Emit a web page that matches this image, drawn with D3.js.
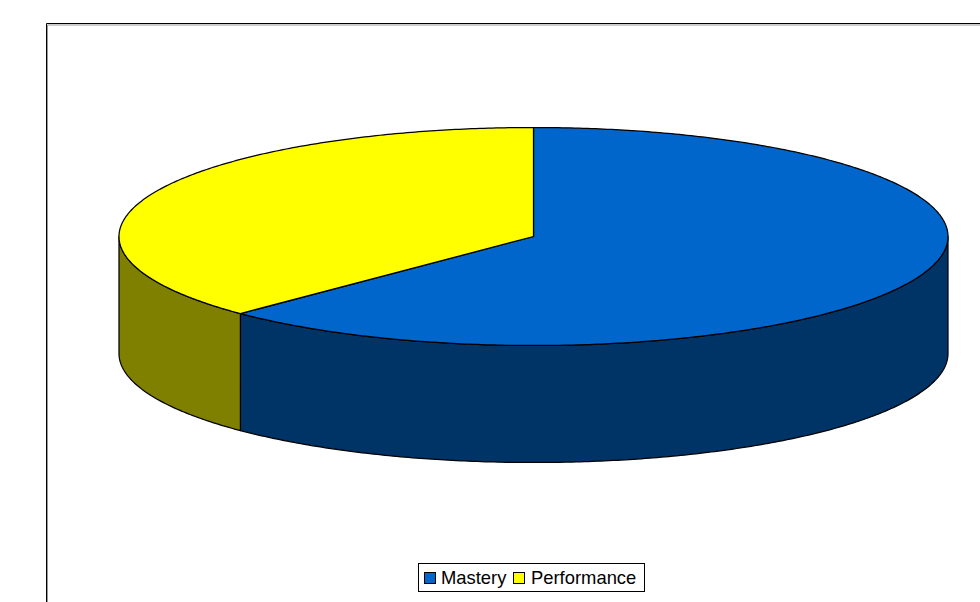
<!DOCTYPE html>
<html><head><meta charset="utf-8">
<script src="https://cdn.jsdelivr.net/npm/d3@7"></script>
<style>html,body{margin:0;padding:0;background:#fff;overflow:hidden}svg{display:block}
text{font-family:"Liberation Sans",Arial,sans-serif;font-size:18.4px;fill:#000}</style>
</head><body><svg id="c" width="980" height="602"></svg>
<script>
const categories = ["Mastery", "Performance"];
const values = [62.5, 37.5];
const topColors = ["#0066CC", "#FFFF00"];
const sideColors = ["#003366", "#808000"];

const svg = d3.select("#c");
const cx = 533.5, cy = 236.5, rx = 414.5, ry = 109, depth = 117;

// chart frame with its soft shadow
svg.append("path").attr("d","M47.5,602V25H980").attr("fill","none").attr("stroke","#999").attr("stroke-width",1);
svg.append("path").attr("d","M46.5,602V23.5H980").attr("fill","none").attr("stroke","#000").attr("stroke-width",1);

const pie = d3.pie().sort(null).value(d => d);
const arcs = pie(values);
const X = t => cx + rx * Math.sin(t);
const Y = (t, dz = 0) => cy - ry * Math.cos(t) + dz;
const samples = (a, b) => { const n = Math.max(2, Math.ceil(Math.abs(b - a) / 0.01)); return d3.range(n + 1).map(i => a + (b - a) * i / n); };
const line = d3.line();

// visible outer wall: the front half of the ellipse only
const frontA = Math.PI / 2, frontB = Math.PI * 1.5;
const g = svg.append("g").attr("stroke","#000").attr("stroke-width",1.25).attr("stroke-linejoin","round");
arcs.forEach((a, i) => {
  const s = Math.max(a.startAngle, frontA), e = Math.min(a.endAngle, frontB);
  if (s >= e) return;
  const ts = samples(s, e);
  const pts = ts.map(t => [X(t), Y(t)]).concat(ts.slice().reverse().map(t => [X(t), Y(t, depth)]));
  g.append("path").attr("d", line(pts) + "Z").attr("fill", sideColors[i]);
});
// top faces
arcs.forEach((a, i) => {
  const pts = [[cx, cy]].concat(samples(a.startAngle, a.endAngle).map(t => [X(t), Y(t)]));
  g.append("path").attr("d", line(pts) + "Z").attr("fill", topColors[i]);
});

// legend
const leg = svg.append("g");
leg.append("rect").attr("x",418.5).attr("y",563.5).attr("width",226).attr("height",28).attr("fill","#fff").attr("stroke","#000");
const swatchX = [424.5, 513.5], textX = [441, 531];
categories.forEach((c, i) => {
  leg.append("rect").attr("x",swatchX[i]).attr("y",572.5).attr("width",11).attr("height",11).attr("fill",topColors[i]).attr("stroke","#000");
  leg.append("text").attr("x",textX[i]).attr("y",583.5).text(c);
});
</script></body></html>
